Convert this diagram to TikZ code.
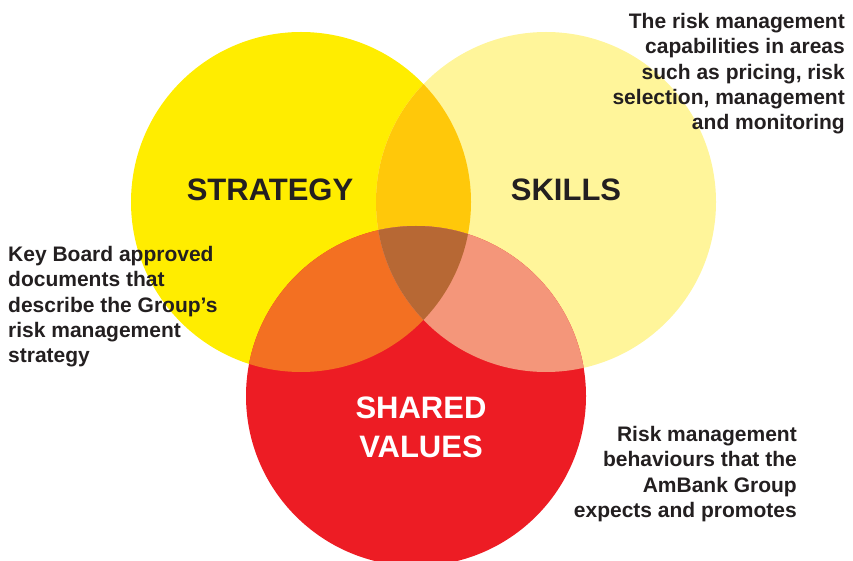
\documentclass[tikz,border=0pt]{standalone}
\usepackage{fontspec}
\setmainfont{Liberation Sans}
\definecolor{textgray}{HTML}{231F20}
\definecolor{strategyyellow}{HTML}{FFED00}
\definecolor{skillsyellow}{HTML}{FFF59A}
\definecolor{valuesred}{HTML}{ED1C24}
\definecolor{stratskills}{HTML}{FFC80A}
\definecolor{stratvalues}{HTML}{F37022}
\definecolor{skillsvalues}{HTML}{F4967A}
\definecolor{allthree}{HTML}{B76834}
\tikzset{
  biglabel/.style={font=\fontsize{31}{39}\selectfont\bfseries, text=textgray, align=center, inner sep=0pt},
  note/.style={font=\fontsize{21}{25.3}\selectfont\bfseries, text=textgray, inner sep=0pt},
}
\begin{document}
\begin{tikzpicture}[x=1pt,y=-1pt]
\useasboundingbox (0,0) rectangle (853,561);
\clip (0,0) rectangle (853,561);
\coordinate (strategy) at (301,202);
\coordinate (skills) at (546,202);
\coordinate (values) at (416,396);
%circles
\fill [strategyyellow](strategy) circle (170pt);
\fill [skillsyellow](skills) circle (170pt);
\fill [valuesred](values) circle (170pt);
%overlaps
\begin{scope}
\clip (strategy) circle (170pt);
\fill [stratskills](skills) circle (170pt);
\fill [stratvalues](values) circle (170pt);
\clip (skills) circle (170pt);
\fill [allthree](values) circle (170pt);
\end{scope}
\begin{scope}
\clip (skills) circle (170pt);
\clip (values) circle (170pt);
\fill [skillsvalues](skills) circle (170pt);
\begin{scope}
\clip (strategy) circle (170pt);
\fill [allthree](values) circle (170pt);
\end{scope}
\end{scope}
%labels
\node [biglabel] (strategylabel) at (270,190) {STRATEGY};
\node [biglabel] (skillslabel) at (566,190) {SKILLS};
\node [biglabel, text=white] (valueslabel) at (421,427) {SHARED\\VALUES};
%notes
\node [note, anchor=north west, align=left] (strategynote) at (8,246)
  {Key Board approved\\documents that\\describe the Group’s\\risk management\\strategy};
\node [note, anchor=north east, align=right] (skillsnote) at (845,13)
  {The risk management\\capabilities in areas\\such as pricing, risk\\selection, management\\and monitoring};
\node [note, anchor=north east, align=right] (valuesnote) at (797,426)
  {Risk management\\behaviours that the\\AmBank Group\\expects and promotes};
\end{tikzpicture}
\end{document}
